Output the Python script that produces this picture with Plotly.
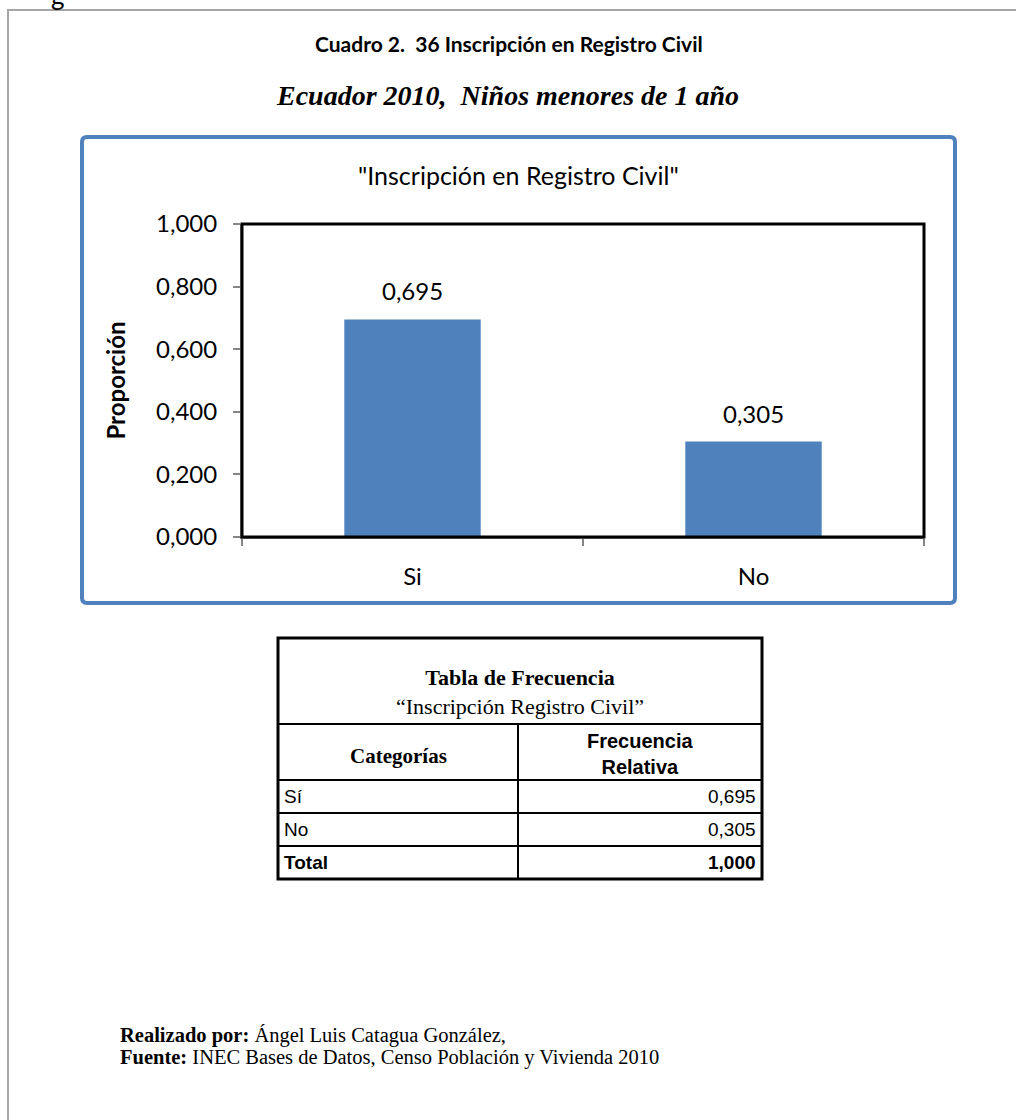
import plotly.graph_objects as go

# ---------------- data ----------------
categories = ["Si", "No"]
proporcion = [0.695, 0.305]
y_tick_values = [0.0, 0.2, 0.4, 0.6, 0.8, 1.0]

table_categories = ["Sí", "No", "Total"]
table_freq_rel = [0.695, 0.305, 1.000]

header_text = "Cuadro 2.\u00a0\u00a036 Inscripción en Registro Civil"
subtitle_text = "Ecuador 2010,\u00a0\u00a0Niños menores de 1 año"
chart_title = "\"Inscripción en Registro Civil\""
y_title = "Proporción"
table_title = "Tabla de Frecuencia"
table_subtitle = "“Inscripción Registro Civil”"
col_headers = ["Categorías", "Frecuencia<br>Relativa"]
footer_lines = [("Realizado por:", "Ángel Luis Catagua González,"),
                ("Fuente:", "INEC Bases de Datos, Censo Población y Vivienda 2010")]

# ---------------- geometry helpers ----------------
W, H = 1016, 1120


def px(x):
    return x / W


def py(y):
    return 1 - y / H


CAL = "Lato, 'Open Sans', sans-serif"
TNR = "'Liberation Serif', 'Times New Roman', serif"
ARI = "'Liberation Sans', Arial, sans-serif"
BLUE = "#4F81BD"
GREY = "#868686"


def fmt(v):
    return f"{v:.3f}".replace(".", ",")


fig = go.Figure(
    go.Bar(
        x=categories,
        y=proporcion,
        marker=dict(color=BLUE, line=dict(width=0)),
        width=0.4,
        hoverinfo="skip",
    )
)

plot_l, plot_r, plot_t, plot_b = 242, 924, 224, 537

fig.update_layout(
    width=W,
    height=H,
    margin=dict(l=0, r=0, t=0, b=0, pad=0, autoexpand=False),
    paper_bgcolor="white",
    plot_bgcolor="white",
    separators=",.",
    showlegend=False,
    xaxis=dict(
        domain=[px(plot_l), px(plot_r)],
        anchor="y",
        automargin=False,
        tickson="boundaries",
        ticks="outside",
        ticklen=7,
        tickwidth=2,
        tickcolor=GREY,
        showline=True,
        linecolor=GREY,
        linewidth=2,
        showgrid=False,
        tickfont=dict(family=CAL, size=24, color="black"),
        ticklabelstandoff=17,
        fixedrange=True,
    ),
    yaxis=dict(
        domain=[py(plot_b), py(plot_t)],
        anchor="x",
        automargin=False,
        range=[0, 1],
        tickvals=y_tick_values,
        tickformat=".3f",
        ticks="outside",
        ticklen=7,
        tickwidth=2,
        tickcolor=GREY,
        showline=True,
        linecolor=GREY,
        linewidth=2,
        showgrid=False,
        zeroline=False,
        tickfont=dict(family=CAL, size=24, color="black"),
        ticklabelstandoff=11,
        title=dict(text=f"<b>{y_title}</b>", font=dict(family=CAL, size=24, color="black"), standoff=24),
        fixedrange=True,
    ),
)

shapes = []
annotations = []

# outer grey page border
shapes.append(dict(type="rect", xref="paper", yref="paper",
                   x0=px(8), x1=px(1040), y0=py(10), y1=py(1160),
                   line=dict(color="#A6A6A6", width=2), layer="below"))
# blue chart frame (slightly rounded corners)
bl, br, bt, bb, rr = 82, 955, 137, 603, 5
blue_path = (
    f"M {px(bl + rr)},{py(bt)} L {px(br - rr)},{py(bt)} Q {px(br)},{py(bt)} {px(br)},{py(bt + rr)} "
    f"L {px(br)},{py(bb - rr)} Q {px(br)},{py(bb)} {px(br - rr)},{py(bb)} "
    f"L {px(bl + rr)},{py(bb)} Q {px(bl)},{py(bb)} {px(bl)},{py(bb - rr)} "
    f"L {px(bl)},{py(bt + rr)} Q {px(bl)},{py(bt)} {px(bl + rr)},{py(bt)} Z"
)
shapes.append(dict(type="path", xref="paper", yref="paper", path=blue_path,
                   line=dict(color=BLUE, width=4), layer="below"))
# black plot-area frame
shapes.append(dict(type="rect", xref="x domain", yref="y domain",
                   x0=0, x1=1, y0=0, y1=1,
                   line=dict(color="black", width=3), layer="above"))

# clipped glyph of the text above the page frame
annotations.append(dict(xref="paper", yref="paper", x=px(49), y=1,
                        text="g", showarrow=False, xanchor="left", yanchor="bottom",
                        yshift=-13, font=dict(family=CAL, size=26, color="black")))

# headings
annotations.append(dict(xref="paper", yref="paper", x=px(509), y=py(44),
                        text=f"<b>{header_text}</b>", showarrow=False,
                        font=dict(family=CAL, size=21, color="black"),
                        xanchor="center", yanchor="middle"))
annotations.append(dict(xref="paper", yref="paper", x=px(507), y=py(95),
                        text=f"<b><i>{subtitle_text}</i></b>", showarrow=False,
                        font=dict(family=TNR, size=28, color="black"),
                        xanchor="center", yanchor="middle"))
annotations.append(dict(xref="paper", yref="paper", x=px(518), y=py(175),
                        text=chart_title, showarrow=False,
                        font=dict(family=CAL, size=25, color="black"),
                        xanchor="center", yanchor="middle"))

# bar value labels
for c, v in zip(categories, proporcion):
    annotations.append(dict(xref="x", yref="y", x=c, y=v, text=fmt(v),
                            showarrow=False, yanchor="bottom", yshift=12,
                            font=dict(family=CAL, size=24, color="black")))

# ---------------- table ----------------
t_l, t_r, t_mid = 278, 762, 518
t_top = 638
title_bot = 724
head_bot = 780
row_h = 33
t_bot = head_bot + row_h * len(table_categories)

for yy in [title_bot, head_bot] + [head_bot + row_h * i for i in range(1, len(table_categories))]:
    shapes.append(dict(type="line", xref="paper", yref="paper",
                       x0=px(t_l), x1=px(t_r), y0=py(yy), y1=py(yy),
                       line=dict(color="black", width=2)))
shapes.append(dict(type="line", xref="paper", yref="paper",
                   x0=px(t_mid), x1=px(t_mid), y0=py(title_bot), y1=py(t_bot),
                   line=dict(color="black", width=2)))
shapes.append(dict(type="rect", xref="paper", yref="paper",
                   x0=px(t_l), x1=px(t_r), y0=py(t_top), y1=py(t_bot),
                   line=dict(color="black", width=3)))

annotations.append(dict(xref="paper", yref="paper", x=px((t_l + t_r) / 2), y=py(692),
                        text=f"<b>{table_title}</b><br>{table_subtitle}", showarrow=False,
                        font=dict(family=TNR, size=22, color="black"),
                        xanchor="center", yanchor="middle"))
annotations.append(dict(xref="paper", yref="paper", x=px((t_l + t_mid) / 2), y=py((title_bot + head_bot) / 2 + 4),
                        text=f"<b>{col_headers[0]}</b>", showarrow=False,
                        font=dict(family=TNR, size=21, color="black"),
                        xanchor="center", yanchor="middle"))
annotations.append(dict(xref="paper", yref="paper", x=px((t_mid + t_r) / 2), y=py((title_bot + head_bot) / 2 + 2),
                        text=f"<b>{col_headers[1]}</b>", showarrow=False,
                        font=dict(family=ARI, size=20, color="black"),
                        xanchor="center", yanchor="middle"))
for i, (cat, val) in enumerate(zip(table_categories, table_freq_rel)):
    yc = head_bot + row_h * i + row_h / 2
    bold = cat == "Total"
    ctext = f"<b>{cat}</b>" if bold else cat
    vtext = f"<b>{fmt(val)}</b>" if bold else fmt(val)
    annotations.append(dict(xref="paper", yref="paper", x=px(t_l + 4), y=py(yc),
                            text=ctext, showarrow=False,
                            font=dict(family=ARI, size=19, color="black"),
                            xanchor="left", yanchor="middle"))
    annotations.append(dict(xref="paper", yref="paper", x=px(t_r - 4), y=py(yc),
                            text=vtext, showarrow=False,
                            font=dict(family=ARI, size=19, color="black"),
                            xanchor="right", yanchor="middle"))

# ---------------- footer ----------------
for i, (b, rest) in enumerate(footer_lines):
    annotations.append(dict(xref="paper", yref="paper", x=px(118), y=py(1035 + 22 * i),
                            text=f"<b>{b}</b> {rest}", showarrow=False,
                            font=dict(family=TNR, size=20.5, color="black"),
                            xanchor="left", yanchor="middle"))

fig.update_layout(shapes=shapes, annotations=annotations)

fig.write_html(
    "out.html",
    config={"displayModeBar": False},
    post_script="document.body.style.margin='0';document.body.style.overflow='hidden';",
)
